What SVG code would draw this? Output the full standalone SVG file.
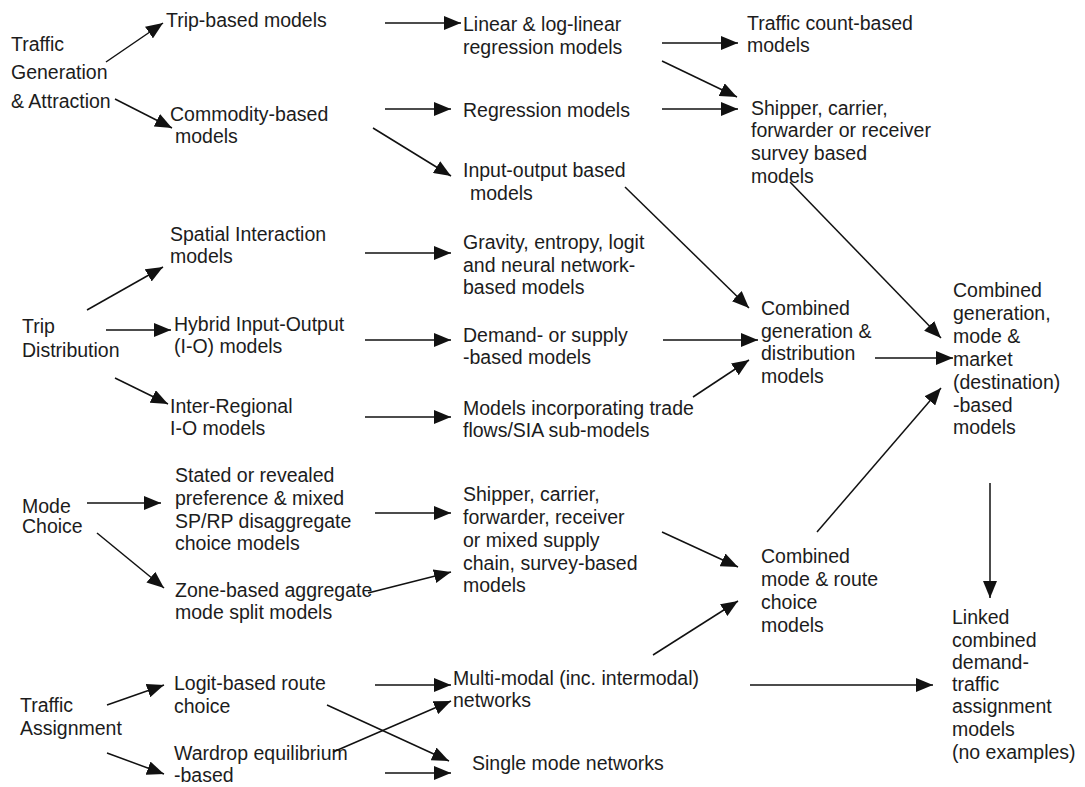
<svg xmlns="http://www.w3.org/2000/svg" width="1085" height="787" viewBox="0 0 1085 787">
<defs>
<marker id="ah" markerUnits="userSpaceOnUse" markerWidth="17" markerHeight="14" viewBox="0 0 17 14" refX="17" refY="7" orient="auto">
<path d="M0,0 L17,7 L0,14 z" fill="#111"/>
</marker>
<style>
text{font-family:"Liberation Sans",Arial,sans-serif;font-size:19.5px;fill:#1c1c1c}
.c line{stroke:#111;stroke-width:1.5;marker-end:url(#ah)}
.c line.n{marker-end:none}
</style>
</defs>
<rect width="1085" height="787" fill="#fff"/>

<g id="traffic-generation"><text><tspan x="11" y="51">Traffic</tspan><tspan x="11" y="79">Generation</tspan><tspan x="11" y="108">&amp; Attraction</tspan></text></g>
<g id="trip-based"><text x="166" y="27">Trip-based models</text></g>
<g id="commodity-based"><text><tspan x="170" y="121">Commodity-based</tspan><tspan x="175" y="143">models</tspan></text></g>
<g id="linear-regression"><text><tspan x="463" y="31">Linear &amp; log-linear</tspan><tspan x="463" y="54">regression models</tspan></text></g>
<g id="regression"><text x="463" y="117">Regression models</text></g>
<g id="input-output"><text><tspan x="463" y="177">Input-output based</tspan><tspan x="470" y="200">models</tspan></text></g>
<g id="traffic-count"><text><tspan x="747" y="30">Traffic count-based</tspan><tspan x="747" y="52">models</tspan></text></g>
<g id="shipper-survey"><text><tspan x="751" y="115">Shipper, carrier,</tspan><tspan x="751" y="137">forwarder or receiver</tspan><tspan x="751" y="160">survey based</tspan><tspan x="751" y="183">models</tspan></text></g>

<g id="trip-distribution"><text><tspan x="22" y="333">Trip</tspan><tspan x="22" y="357">Distribution</tspan></text></g>
<g id="spatial-interaction"><text><tspan x="170" y="241">Spatial Interaction</tspan><tspan x="170" y="263">models</tspan></text></g>
<g id="hybrid-io"><text><tspan x="174" y="331">Hybrid Input-Output</tspan><tspan x="174" y="353">(I-O) models</tspan></text></g>
<g id="inter-regional"><text><tspan x="170" y="413">Inter-Regional</tspan><tspan x="170" y="435">I-O models</tspan></text></g>
<g id="gravity"><text><tspan x="463" y="249">Gravity, entropy, logit</tspan><tspan x="463" y="272">and neural network-</tspan><tspan x="463" y="294">based models</tspan></text></g>
<g id="demand-supply"><text><tspan x="463" y="342">Demand- or supply</tspan><tspan x="463" y="364">-based models</tspan></text></g>
<g id="trade-flows"><text><tspan x="463" y="415">Models incorporating trade</tspan><tspan x="463" y="437">flows/SIA sub-models</tspan></text></g>
<g id="combined-gen-dist"><text><tspan x="761" y="315">Combined</tspan><tspan x="761" y="338">generation &amp;</tspan><tspan x="761" y="360">distribution</tspan><tspan x="761" y="383">models</tspan></text></g>
<g id="combined-gen-mode-market"><text><tspan x="953" y="297">Combined</tspan><tspan x="953" y="320">generation,</tspan><tspan x="953" y="343">mode &amp;</tspan><tspan x="953" y="366">market</tspan><tspan x="953" y="389">(destination)</tspan><tspan x="953" y="412">-based</tspan><tspan x="953" y="434">models</tspan></text></g>

<g id="mode-choice"><text><tspan x="22" y="513">Mode</tspan><tspan x="22" y="533">Choice</tspan></text></g>
<g id="stated-revealed"><text><tspan x="175" y="482">Stated or revealed</tspan><tspan x="175" y="505">preference &amp; mixed</tspan><tspan x="175" y="528">SP/RP disaggregate</tspan><tspan x="175" y="550">choice models</tspan></text></g>
<g id="zone-based"><text><tspan x="175" y="597">Zone-based aggregate</tspan><tspan x="175" y="619">mode split models</tspan></text></g>
<g id="shipper-supply-chain"><text><tspan x="463" y="501">Shipper, carrier,</tspan><tspan x="463" y="524">forwarder, receiver</tspan><tspan x="463" y="547">or mixed supply</tspan><tspan x="463" y="570">chain, survey-based</tspan><tspan x="463" y="592">models</tspan></text></g>
<g id="combined-mode-route"><text><tspan x="761" y="563">Combined</tspan><tspan x="761" y="586">mode &amp; route</tspan><tspan x="761" y="609">choice</tspan><tspan x="761" y="632">models</tspan></text></g>

<g id="traffic-assignment"><text><tspan x="20" y="712">Traffic</tspan><tspan x="20" y="735">Assignment</tspan></text></g>
<g id="logit-route"><text><tspan x="174" y="690">Logit-based route</tspan><tspan x="174" y="713">choice</tspan></text></g>
<g id="wardrop"><text><tspan x="174" y="760">Wardrop equilibrium</tspan><tspan x="174" y="782">-based</tspan></text></g>
<g id="multi-modal"><text><tspan x="453" y="685">Multi-modal (inc. intermodal)</tspan><tspan x="453" y="707">networks</tspan></text></g>
<g id="single-mode"><text x="472" y="770">Single mode networks</text></g>
<g id="linked-models"><text><tspan x="952" y="624">Linked</tspan><tspan x="952" y="647">combined</tspan><tspan x="952" y="669">demand-</tspan><tspan x="952" y="691">traffic</tspan><tspan x="952" y="713">assignment</tspan><tspan x="952" y="736">models</tspan><tspan x="952" y="759">(no examples)</tspan></text></g>

<g id="connectors" class="c">
<line x1="106" y1="62" x2="163" y2="23"/>
<line x1="115" y1="99" x2="172" y2="128"/>
<line x1="385" y1="23" x2="461" y2="23"/>
<line x1="385" y1="109" x2="451" y2="109"/>
<line x1="373" y1="128" x2="451" y2="176"/>
<line x1="662" y1="43" x2="738" y2="43"/>
<line x1="662" y1="61" x2="737" y2="97"/>
<line x1="662" y1="109" x2="738" y2="109"/>
<line x1="625" y1="187" x2="749" y2="308"/>
<line x1="790" y1="182" x2="941" y2="338"/>
<line x1="87" y1="310" x2="163" y2="267"/>
<line x1="106" y1="330" x2="171" y2="330"/>
<line x1="115" y1="378" x2="168" y2="404"/>
<line x1="365" y1="253" x2="451" y2="253"/>
<line x1="365" y1="340" x2="451" y2="340"/>
<line x1="365" y1="417" x2="451" y2="417"/>
<line x1="663" y1="340" x2="758" y2="340"/>
<line x1="693" y1="397" x2="749" y2="360"/>
<line x1="875" y1="358" x2="953" y2="358"/>
<line x1="817" y1="532" x2="941" y2="388"/>
<line x1="990" y1="483" x2="990" y2="598"/>
<line x1="87" y1="503" x2="161" y2="503"/>
<line x1="97" y1="533" x2="164" y2="588"/>
<line x1="375" y1="513" x2="451" y2="513"/>
<line x1="368" y1="593" x2="451" y2="572"/>
<line x1="662" y1="532" x2="738" y2="567"/>
<line x1="653" y1="655" x2="738" y2="601"/>
<line x1="107" y1="705" x2="164" y2="685"/>
<line x1="107" y1="753" x2="164" y2="774"/>
<line x1="375" y1="685" x2="451" y2="685"/>
<line x1="327" y1="705" x2="449" y2="761"/>
<line x1="333" y1="752" x2="451" y2="701"/>
<line x1="385" y1="773" x2="451" y2="773"/>
<line x1="750" y1="685" x2="933" y2="685"/>
</g>
</svg>
